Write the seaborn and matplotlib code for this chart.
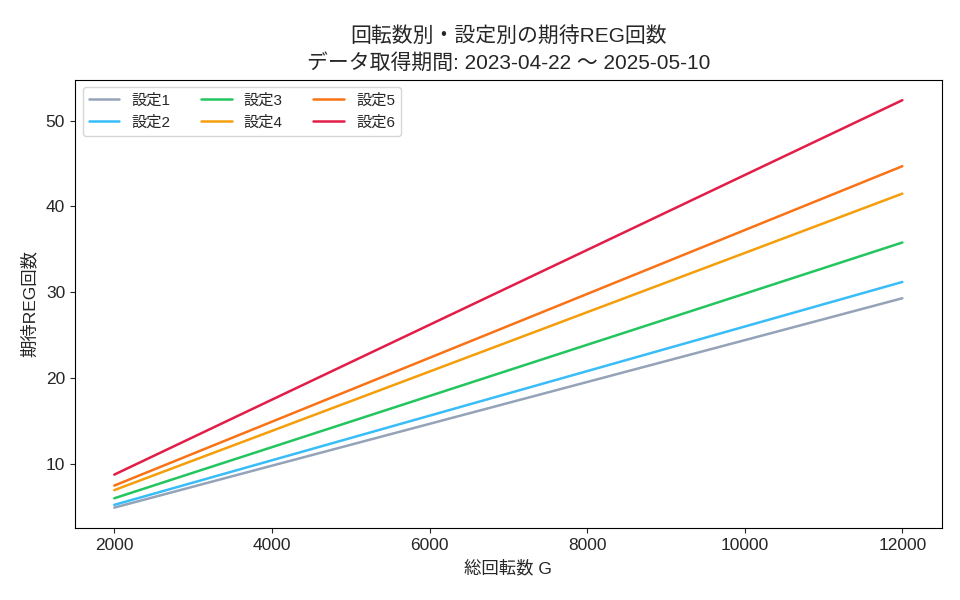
import pandas as pd
import numpy as np

import matplotlib
matplotlib.use("Agg")

import matplotlib.pyplot as plt
import seaborn as sns

sns.set_style("ticks")
plt.rcParams["font.family"] = ["Liberation Sans", "Noto Sans CJK JP", "DejaVu Sans"]

games = [2000, 4000, 6000, 8000, 10000, 12000]
settings = ["設定1", "設定2", "設定3", "設定4", "設定5", "設定6"]
reg_s1 = [4.88, 9.77, 14.65, 19.53, 24.41, 29.30]
reg_s2 = [5.20, 10.40, 15.60, 20.80, 26.00, 31.20]
reg_s3 = [5.97, 11.93, 17.90, 23.87, 29.83, 35.80]
reg_s4 = [6.92, 13.83, 20.75, 27.67, 34.58, 41.50]
reg_s5 = [7.45, 14.90, 22.35, 29.80, 37.25, 44.70]
reg_s6 = [8.73, 17.47, 26.20, 34.93, 43.67, 52.40]
colors = ["#94a3b8", "#38bdf8", "#22c55e", "#f59e0b", "#f97316", "#e11d48"]

rows = []
for name, vals in zip(settings, [reg_s1, reg_s2, reg_s3, reg_s4, reg_s5, reg_s6]):
    for g, v in zip(games, vals):
        rows.append({"games": g, "reg": v, "setting": name})
df = pd.DataFrame(rows)

fig, ax = plt.subplots(figsize=(9.6, 6), dpi=100)
sns.lineplot(data=df, x="games", y="reg", hue="setting",
             palette=dict(zip(settings, colors)), linewidth=1.8, ax=ax)

for s in ax.spines.values():
    s.set_color("black")
ax.set_title("回転数別・設定別の期待REG回数\nデータ取得期間: 2023-04-22 〜 2025-05-10",
             fontsize=15, linespacing=1.45, pad=8)
ax.set_xlabel("総回転数 G", fontsize=12.5, labelpad=5)
ax.set_ylabel("期待REG回数", fontsize=12.5, labelpad=6)
ax.tick_params(labelsize=12.5)
ax.legend(ncol=3, loc="upper left", fontsize=11, title=None, columnspacing=2.0)

plt.subplots_adjust(left=0.078, right=0.981, top=0.867, bottom=0.12)
plt.savefig("out.png")
plt.close()
